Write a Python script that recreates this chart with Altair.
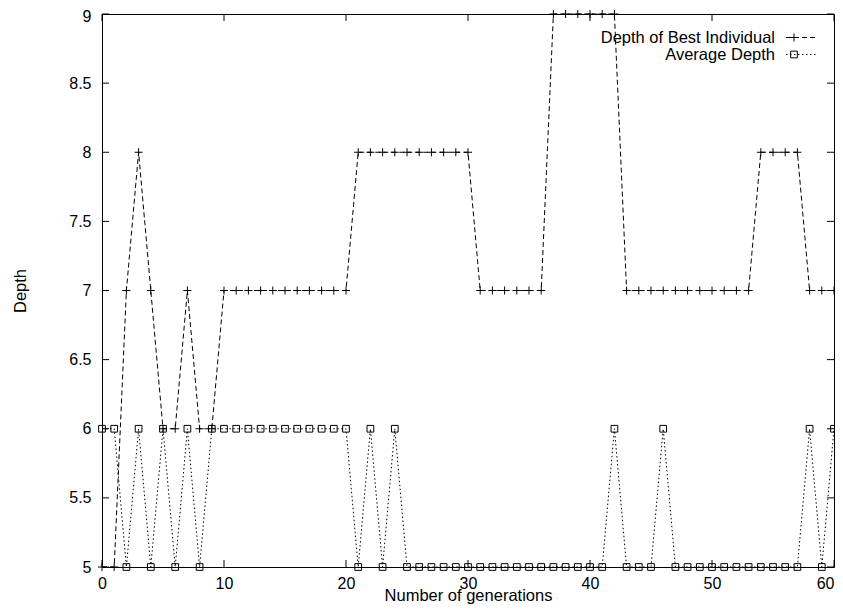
import altair as alt
import pandas as pd

# ---- data ----
generations = [0, 1, 2, 3, 4, 5, 6, 7, 8, 9,
               10, 11, 12, 13, 14, 15, 16, 17, 18, 19,
               20, 21, 22, 23, 24, 25, 26, 27, 28, 29,
               30, 31, 32, 33, 34, 35, 36, 37, 38, 39,
               40, 41, 42, 43, 44, 45, 46, 47, 48, 49,
               50, 51, 52, 53, 54, 55, 56, 57, 58, 59, 60]

best_depth = [5, 5, 7, 8, 7, 6, 6, 7, 6, 6,
              7, 7, 7, 7, 7, 7, 7, 7, 7, 7,
              7, 8, 8, 8, 8, 8, 8, 8, 8, 8,
              8, 7, 7, 7, 7, 7, 7, 9, 9, 9,
              9, 9, 9, 7, 7, 7, 7, 7, 7, 7,
              7, 7, 7, 7, 8, 8, 8, 8, 7, 7, 7]

avg_depth = [6, 6, 5, 6, 5, 6, 5, 6, 5, 6,
             6, 6, 6, 6, 6, 6, 6, 6, 6, 6,
             6, 5, 6, 5, 6, 5, 5, 5, 5, 5,
             5, 5, 5, 5, 5, 5, 5, 5, 5, 5,
             5, 5, 6, 5, 5, 5, 6, 5, 5, 5,
             5, 5, 5, 5, 5, 5, 5, 5, 6, 5, 6]

series_labels = ["Depth of Best Individual", "Average Depth"]
x_ticks = [0, 10, 20, 30, 40, 50, 60]
y_ticks = [5, 5.5, 6, 6.5, 7, 7.5, 8, 8.5, 9]

# ---- style ----
W, H = 732, 553
FONT = "Liberation Sans"
FS = 16
TFS = 16.5
PLUS = "M-1,0L1,0M0,-1L0,1"
BEST_DASH = [5, 3]
AVG_DASH = [1.5, 2.5]

df = pd.DataFrame({"gen": generations, "best": best_depth, "avg": avg_depth})

xs = alt.Scale(domain=[0, 60], nice=False, zero=False)
ys = alt.Scale(domain=[5, 9], nice=False, zero=False)

x_axis = alt.Axis(values=x_ticks, format="d", title="Number of generations",
                  ticks=False, tickSize=0, domain=False, grid=False,
                  labelFont=FONT, labelFontSize=FS, labelColor="black",
                  labelPadding=8, labelOverlap=False, labelFlush=False,
                  labelAlign={"expr": "datum.value >= 60 ? 'right' : 'center'"},
                  titleFont=FONT, titleFontSize=TFS, titleFontWeight="normal",
                  titleColor="black", titleY=33, titleBaseline="alphabetic")
y_axis = alt.Axis(values=y_ticks, format="~g", title="Depth",
                  ticks=False, tickSize=0, domain=False, grid=False,
                  labelFont=FONT, labelFontSize=FS, labelColor="black",
                  labelPadding=11, labelOverlap=False, labelFlush=False,
                  labelOffset={"expr": "datum.value >= 9 ? 2 : 0"},
                  titleFont=FONT, titleFontSize=TFS, titleFontWeight="normal",
                  titleColor="black", titleX=-82, titleY=H / 2,
                  titleAngle=270, titleBaseline="middle", titleAlign="center")


def X(field):
    return alt.X(field, scale=xs, axis=x_axis, title="Number of generations")


def Y(field):
    return alt.Y(field, scale=ys, axis=y_axis, title="Depth")


base = alt.Chart(df)

best_line = base.mark_line(color="black", strokeWidth=1, strokeDash=BEST_DASH).encode(
    x=X("gen:Q"), y=Y("best:Q"))
best_pts = base.mark_point(shape=PLUS, size=64, filled=False, color="black",
                           strokeWidth=1, opacity=1).encode(
    x=X("gen:Q"), y=Y("best:Q"))
avg_line = base.mark_line(color="black", strokeWidth=1, strokeDash=AVG_DASH).encode(
    x=X("gen:Q"), y=Y("avg:Q"))
avg_pts = base.mark_point(shape="square", size=45, filled=False, color="black",
                          strokeWidth=1, opacity=1).encode(
    x=X("gen:Q"), y=Y("avg:Q"))

# inward ticks on all four sides (gnuplot style)
yt = alt.Chart(pd.DataFrame({"v": y_ticks}))
xt = alt.Chart(pd.DataFrame({"v": x_ticks}))
TL = 7
left_ticks = yt.mark_rule(color="black", strokeWidth=1).encode(
    y=Y("v:Q"), x=alt.value(0), x2=alt.value(TL))
right_ticks = yt.mark_rule(color="black", strokeWidth=1).encode(
    y=Y("v:Q"), x=alt.value(W - TL), x2=alt.value(W))
bottom_ticks = xt.mark_rule(color="black", strokeWidth=1).encode(
    x=X("v:Q"), y=alt.value(H - TL), y2=alt.value(H))
top_ticks = xt.mark_rule(color="black", strokeWidth=1).encode(
    x=X("v:Q"), y=alt.value(0), y2=alt.value(TL))


# key (top right, labels right-aligned left of the samples)
def key_entry(label, ypix, dash, shape, size):
    kb = alt.Chart(pd.DataFrame({"label": [label]}))
    txt = kb.mark_text(align="right", baseline="middle", font=FONT, fontSize=TFS,
                       color="black").encode(
        x=alt.value(673), y=alt.value(ypix), text="label:N")
    ln = kb.mark_rule(color="black", strokeWidth=1, strokeDash=dash).encode(
        x=alt.value(684), x2=alt.value(714), y=alt.value(ypix))
    pt = kb.mark_point(shape=shape, size=size, filled=False, color="black",
                       strokeWidth=1, opacity=1).encode(
        x=alt.value(692), y=alt.value(ypix))
    return [txt, ln, pt]


key = key_entry(series_labels[0], 23.5, BEST_DASH, PLUS, 64) + \
      key_entry(series_labels[1], 40.5, AVG_DASH, "square", 45)

chart = alt.layer(
    best_line, avg_line, best_pts, avg_pts,
    left_ticks, right_ticks, bottom_ticks, top_ticks,
    *key
).properties(
    width=W, height=H, autosize="none",
    padding={"left": 94, "top": 6, "right": 1, "bottom": 37},
    background="white",
).configure_view(stroke="black", strokeWidth=1)

chart.save("out.html", embed_options={"renderer": "svg", "actions": False})
